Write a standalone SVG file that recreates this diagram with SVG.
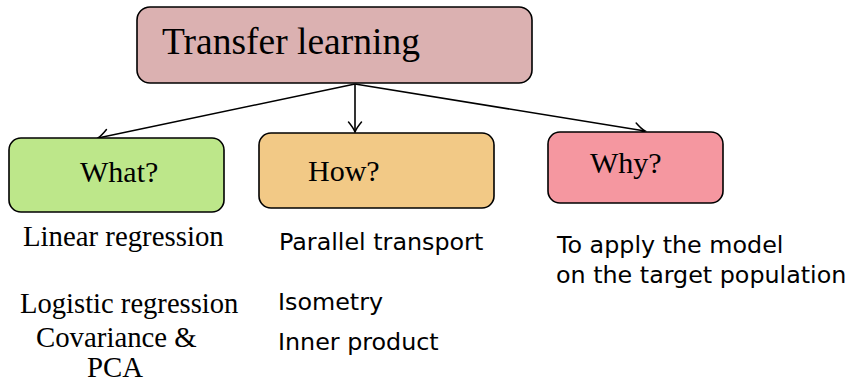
<svg xmlns="http://www.w3.org/2000/svg" width="854" height="384" viewBox="0 0 854 384">
  <defs>
    <marker id="arr" markerUnits="userSpaceOnUse" markerWidth="20" markerHeight="20" viewBox="-12 -10 14 20" refX="0" refY="0" orient="auto">
      <path d="M-10,-6.5 Q-4,-1.5 0,0 Q-4,1.5 -10,6.5" fill="none" stroke="#000" stroke-width="1.5" stroke-linecap="round"/>
    </marker>
  </defs>
  <style>
    .box { stroke: #000; stroke-width: 1.6; }
    .serif { font-family: "Liberation Serif", "Times New Roman", serif; fill: #000; }
    .sans { font-family: "DejaVu Sans", sans-serif; fill: #000; font-size: 23.8px; }
    .edge { stroke: #000; stroke-width: 1.6; fill: none; marker-end: url(#arr); }
  </style>
  <rect width="854" height="384" fill="#fff"/>
  <g id="edges">
    <line class="edge" x1="355" y1="84" x2="98" y2="138"/>
    <line class="edge" x1="355" y1="84" x2="355" y2="132"/>
    <line class="edge" x1="355" y1="84" x2="645" y2="131"/>
  </g>
  <g id="transfer">
    <rect class="box" x="137" y="7" width="395" height="76" rx="13" fill="#dbb1b1"/>
    <text class="serif" x="162" y="54" font-size="37.5">Transfer learning</text>
  </g>
  <g id="what">
    <rect class="box" x="9" y="138" width="215" height="74" rx="12" fill="#bde78a"/>
    <text class="serif" x="80" y="182" font-size="30">What?</text>
  </g>
  <g id="how">
    <rect class="box" x="259" y="133" width="235" height="75" rx="12" fill="#f2c986"/>
    <text class="serif" x="308" y="181" font-size="30">How?</text>
  </g>
  <g id="why">
    <rect class="box" x="548" y="132" width="175" height="71" rx="12" fill="#f597a0"/>
    <text class="serif" x="590" y="173" font-size="30">Why?</text>
  </g>
  <g id="what-items">
    <text class="serif" x="23" y="246" font-size="28.8">Linear regression</text>
    <text class="serif" x="20" y="313" font-size="28.6">Logistic regression</text>
    <text class="serif" x="36" y="347" font-size="28.8">Covariance &amp;</text>
    <text class="serif" x="87" y="377" font-size="28.8">PCA</text>
  </g>
  <g id="how-items">
    <text class="sans" x="279" y="250">Parallel transport</text>
    <text class="sans" x="278" y="310">Isometry</text>
    <text class="sans" x="278" y="350">Inner product</text>
  </g>
  <g id="why-items">
    <text class="sans" x="557" y="253">To apply the model</text>
    <text class="sans" x="556" y="283">on the target population</text>
  </g>
</svg>
